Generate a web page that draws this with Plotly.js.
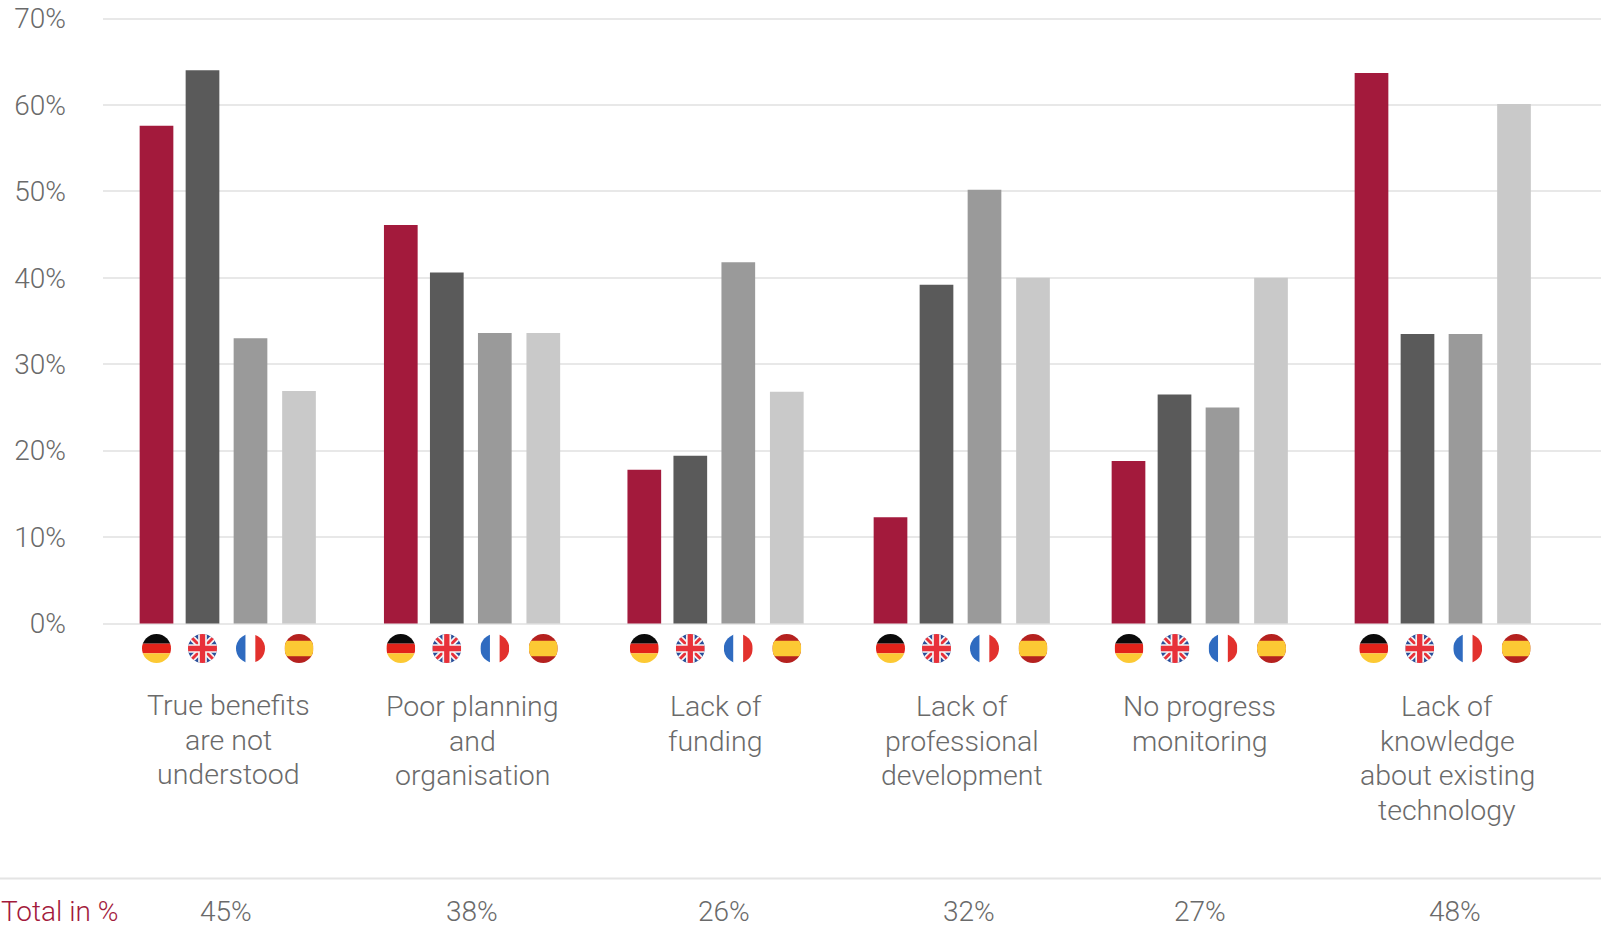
<!DOCTYPE html>
<html><head><meta charset="utf-8">
<script src="https://cdn.plot.ly/plotly-3.0.1.min.js"></script>
<style>html,body{margin:0;padding:0;background:#fff}#c{width:1601px;height:938px}</style>
</head><body><div id="c"></div>
<script>
const categories = [["True benefits","are not","understood"],["Poor planning","and","organisation"],["Lack of","funding"],["Lack of","professional","development"],["No progress","monitoring"],["Lack of","knowledge","about existing","technology"]];
const germany = [57.6,46.1,17.8,12.3,18.8,63.7];
const uk      = [64.0,40.6,19.4,39.2,26.5,33.5];
const france  = [33.0,33.6,41.8,50.2,25.0,33.5];
const spain   = [26.9,33.6,26.8,40.0,40.0,60.1];
const totals  = ["45%","38%","26%","32%","27%","48%"];
const yTicks  = [0,10,20,30,40,50,60,70];

// layout helpers (x axis unit = 1 page pixel)
const groupX = [228,472.3,715.8,962,1200,1443];
const flagX  = [228,472.3,715.8,962,1200.5,1445.2];
const labelX = [228,472,715.5,962,1199.5,1447];
const totalX = [226,472,724,969,1199.5,1455];
const lineY  = [705.5,706.5,706.5,706.5,706.5,706.5];
const linePx = 34.7;
const seriesOff = [-71.5,-25.5,22.5,71];
const barW = 33.7;
const top0 = 18.5, zero = 623.5, H = 938, pxPerUnit = (zero-top0)/70;
const yOf = p => (zero-p)/pxPerUnit;
const colors = ["#a31a3c","#5a5a5a","#9a9a9a","#c9c9c9"];
const names = ["Germany","UK","France","Spain"];
const series = [germany,uk,france,spain];
const fontFam = "Roboto, sans-serif";
const txt = "#6a6a6a";

const svg = inner => "data:image/svg+xml;utf8," + encodeURIComponent(
 `<svg xmlns="http://www.w3.org/2000/svg" viewBox="0 0 60 60" width="120" height="120"><defs><clipPath id="k"><circle cx="30" cy="30" r="30"/></clipPath></defs><g clip-path="url(#k)">${inner}</g></svg>`);
const flags = [
 svg('<rect width="60" height="20" fill="#0a0a0a"/><rect y="20" width="60" height="20" fill="#e2231a"/><rect y="40" width="60" height="20" fill="#fcc934"/>'),
 svg('<rect width="60" height="60" fill="#2a4f9a"/><path d="M0 0L60 60M60 0L0 60" stroke="#f4f4f4" stroke-width="13"/><path d="M0 0L60 60M60 0L0 60" stroke="#e8313a" stroke-width="6"/><path d="M30 0V60M0 30H60" stroke="#f4f4f4" stroke-width="18"/><path d="M30 0V60M0 30H60" stroke="#e8313a" stroke-width="11"/>'),
 svg('<rect width="20" height="60" fill="#2f6bc0"/><rect x="20" width="20" height="60" fill="#ffffff"/><rect x="40" width="20" height="60" fill="#e2312d"/>'),
 svg('<rect width="60" height="60" fill="#b5211f"/><rect y="14" width="60" height="32" fill="#fcc934"/>')
];

const traces = series.map((vals,i)=>({
  type:"bar", name:names[i], x:groupX, y:vals,
  width:barW, offset:seriesOff[i]-barW/2,
  marker:{color:colors[i],line:{width:0}}, hoverinfo:"y+name"
}));

const images=[];
flagX.forEach(g=>seriesOff.forEach((o,i)=>images.push({
  source:flags[i], xref:"x", yref:"y", x:g+o, y:yOf(648.5),
  sizex:29, sizey:29/pxPerUnit, sizing:"stretch", xanchor:"center", yanchor:"middle", layer:"above"
})));

const annF = {family:fontFam,size:28.5,color:txt,weight:300};
const annotations=[];
categories.forEach((lines,i)=>lines.forEach((ln,j)=>annotations.push({
  text:ln, x:labelX[i], xref:"x", y:yOf(lineY[i]+j*linePx), yref:"y",
  xanchor:"center", yanchor:"middle", align:"center", showarrow:false, font:annF, borderpad:0
})));
totals.forEach((t,i)=>annotations.push({
  text:t, x:totalX[i], xref:"x", y:yOf(911), yref:"y",
  xanchor:"center", yanchor:"middle", showarrow:false, font:{...annF,size:28}, borderpad:0
}));
annotations.push({text:"Total in %", x:-103/1498, xref:"paper", y:yOf(911), yref:"y",
  xanchor:"left", yanchor:"middle", showarrow:false, font:{family:fontFam,size:28,color:"#a31a3c",weight:300}, borderpad:0});

const layout={
  width:1601,height:938,margin:{l:103,r:0,t:0,b:0},
  paper_bgcolor:"#fff",plot_bgcolor:"#fff",showlegend:false,
  xaxis:{range:[103,1601],visible:false,fixedrange:true},
  yaxis:{range:[yOf(H),yOf(0)],tickmode:"array",tickvals:yTicks,ticktext:yTicks.map(v=>v+"%"),
    showgrid:true,gridcolor:"#e8e8e8",gridwidth:2,zeroline:false,showline:false,ticks:"",
    ticklabelstandoff:36,tickfont:{family:fontFam,size:28,color:txt,weight:300},fixedrange:true},
  shapes:[{type:"line",xref:"paper",x0:-103/1498,x1:1,yref:"y",y0:yOf(878.5),y1:yOf(878.5),line:{color:"#e4e4e4",width:2}}],
  images,annotations
};
Plotly.newPlot("c",traces,layout,{displayModeBar:false,staticPlot:true});
</script></body></html>
